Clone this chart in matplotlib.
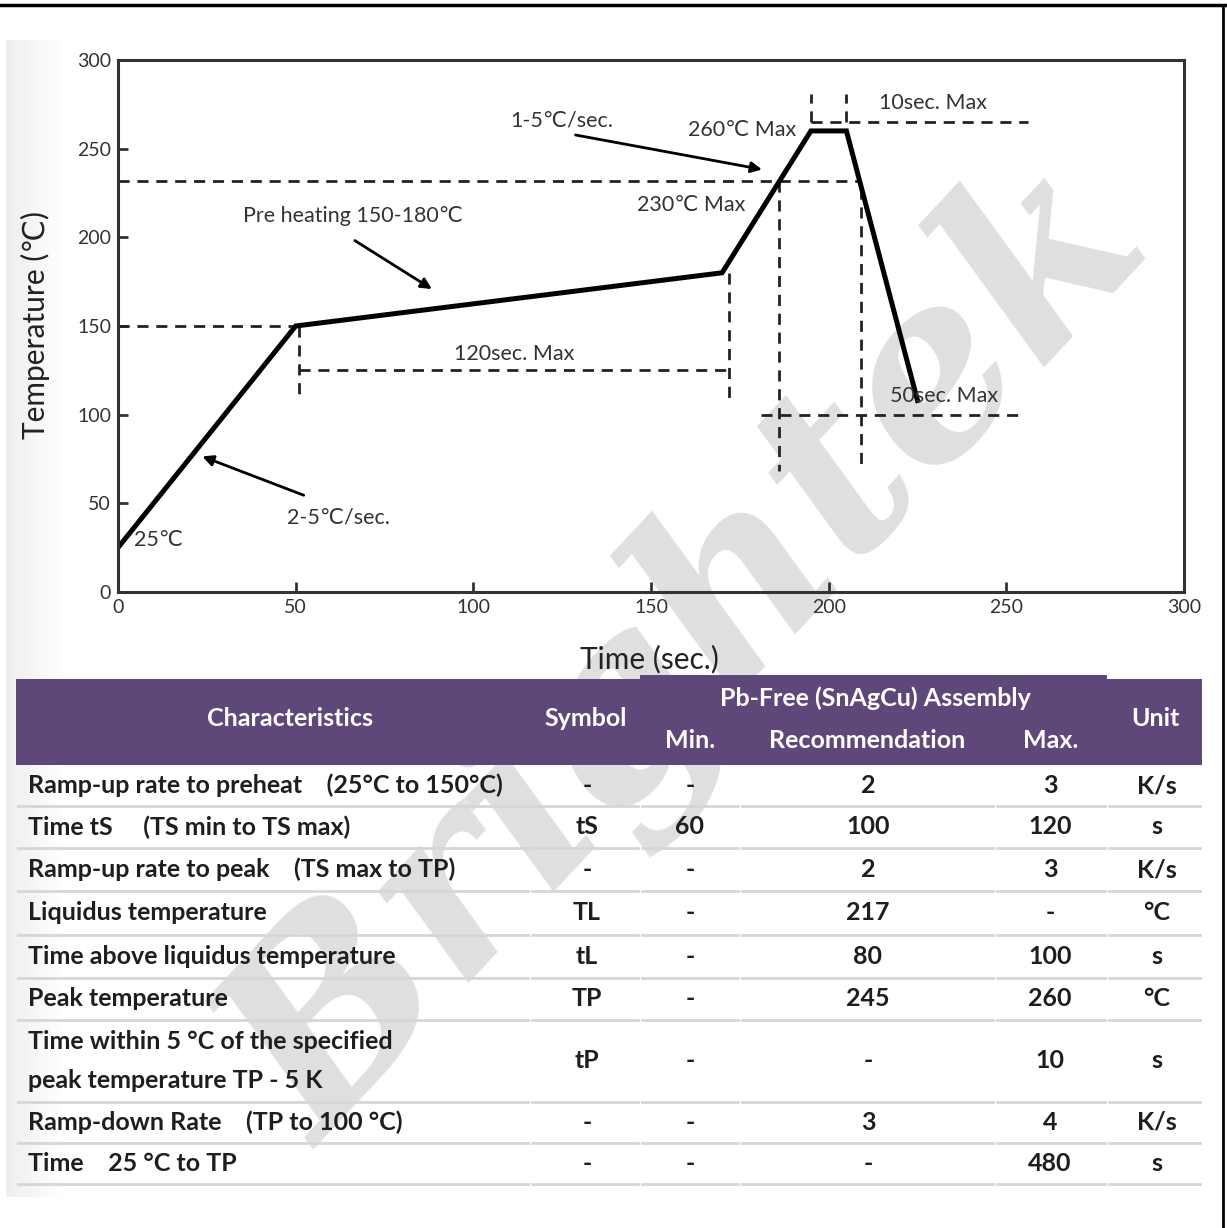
import matplotlib
matplotlib.use("Agg")
import matplotlib.pyplot as plt
from matplotlib.patches import Rectangle
import numpy as np

# ---- chart data ----
profile_time = [0, 50, 170, 195, 205, 225]
profile_temp = [25, 150, 180, 260, 260, 108]

# dashed guide lines: (x0, x1, y0, y1) in data units
guides = [
    (0, 50, 150, 150),
    (51, 51, 150, 108),
    (51, 172, 125, 125),
    (172, 172, 180, 108),
    (0, 209, 232, 232),
    (186, 186, 232, 68),
    (209, 209, 228, 68),
    (181, 255, 100, 100),
    (195, 256, 265, 265),
    (195, 195, 265, 281),
    (205, 205, 265, 281),
]

# (text, text_x, text_y, arrow_tip_x, arrow_tip_y, arrow_tail_x, arrow_tail_y)
arrow_notes = [
    ("1-5\u2103/sec.", 125, 266, 182, 238, 128, 258),
    ("Pre heating 150-180\u2103", 66, 212, 89, 170, 66, 199),
    ("2-5\u2103/sec.", 62, 42, 23, 77, 53, 54),
]
plain_notes = [
    ("260\u2103 Max", 191, 260.5, "right"),
    ("230\u2103 Max", 176.5, 218, "right"),
    ("120sec. Max", 111.5, 134, "center"),
    ("10sec. Max", 229.5, 276, "center"),
    ("50sec. Max", 232.5, 110.5, "center"),
    ("25\u2103", 4.5, 29.5, "left"),
]

x_ticks = [0, 50, 100, 150, 200, 250, 300]
y_ticks = [0, 50, 100, 150, 200, 250, 300]

# ---- table data ----
header_main = ["Characteristics", "Symbol", "Unit"]
header_group = "Pb-Free (SnAgCu) Assembly"
header_sub = ["Min.", "Recommendation", "Max."]
characteristics = [
    "Ramp-up rate to preheat    (25\u00b0C to 150\u00b0C)",
    "Time tS     (TS min to TS max)",
    "Ramp-up rate to peak    (TS max to TP)",
    "Liquidus temperature",
    "Time above liquidus temperature",
    "Peak temperature",
    "Time within 5 \u00b0C of the specified\npeak temperature TP - 5 K",
    "Ramp-down Rate    (TP to 100 \u00b0C)",
    "Time    25 \u00b0C to TP",
]
symbols = ["-", "tS", "-", "TL", "tL", "TP", "tP", "-", "-"]
mins = ["-", "60", "-", "-", "-", "-", "-", "-", "-"]
recommendations = ["2", "100", "2", "217", "80", "245", "-", "3", "-"]
maxs = ["3", "120", "3", "-", "100", "260", "10", "4", "480"]
units = ["K/s", "s", "K/s", "\u00b0C", "s", "\u00b0C", "s", "K/s", "s"]

plt.rcParams['font.family'] = ['Lato', 'DejaVu Sans']

W, H = 1227, 1228
fig = plt.figure(figsize=(W / 100, H / 100), dpi=100)

# background layer: frame, shadow, watermark
bg = fig.add_axes([0, 0, 1, 1], zorder=0)
bg.set_xlim(0, W)
bg.set_ylim(H, 0)
bg.axis('off')

grad = np.linspace(0.93, 1.0, 60).reshape(1, -1)
bg.imshow(grad, cmap='gray', vmin=0, vmax=1, extent=[6, 66, 1197, 40], aspect='auto')
bg.text(690, 655, "Brightek", rotation=47, fontsize=178, family='DejaVu Serif',
        style='italic', weight='bold', color='#dfdfdf', ha='center', va='center')
bg.add_patch(Rectangle((640, 636), 466, 44, color='white', lw=0))
bg.plot([0, W], [5, 5], color='black', lw=2.5)
bg.plot([1223, 1223], [5, H], color='black', lw=2)

# ---- reflow chart ----
ax = fig.add_axes([118 / W, 1 - 592 / H, (1184 - 118) / W, (592 - 60) / H], zorder=2)
ax.set_facecolor('none')
ax.set_xlim(0, 300)
ax.set_ylim(0, 300)
ax.set_xticks(x_ticks)
ax.set_yticks(y_ticks)
ax.tick_params(direction='in', length=7, width=2, labelsize=14, colors='#333333', pad=5)
for s in ax.spines.values():
    s.set_linewidth(2.2)
    s.set_color('#333333')

for x0, x1, y0, y1 in guides:
    ax.plot([x0, x1], [y0, y1], color='#222222', lw=2, dashes=(4, 2.8))

ax.plot(profile_time, profile_temp, color='black', lw=3.6, solid_joinstyle='miter')

for txt, tx, ty, hx, hy, sx, sy in arrow_notes:
    ax.text(tx, ty, txt, fontsize=15.5, color='#333333', ha='center', va='center')
    ax.annotate("", xy=(hx, hy), xytext=(sx, sy),
                arrowprops=dict(arrowstyle='-|>', lw=2, color='black', mutation_scale=16))
for txt, tx, ty, ha in plain_notes:
    ax.text(tx, ty, txt, fontsize=15.5, color='#333333', ha=ha, va='center')

ax.set_xlabel("Time (sec.)", fontsize=21.5, color='#222222')
ax.set_ylabel("Temperature (\u2103)", fontsize=21.5, color='#222222')
ax.xaxis.set_label_coords(0.499, -0.1)
ax.yaxis.set_label_coords(-0.064, 0.502)

# ---- table ----
tb = fig.add_axes([0, 0, 1, 1], zorder=3)
tb.set_facecolor('none')
tb.set_xlim(0, W)
tb.set_ylim(H, 0)
tb.axis('off')

col_edges = [16, 530, 640, 740, 995, 1107, 1202]
row_edges = [765, 806, 848, 891, 935, 978, 1020, 1102, 1143, 1184]
purple = '#5e4779'

tb.add_patch(Rectangle((16, 679), 1186, 765 - 679, color=purple, lw=0))
tb.add_patch(Rectangle((640, 675), 1107 - 640, 8, color=purple, lw=0))

hdr = dict(color='white', fontsize=18, weight='bold', va='center', ha='center')
tb.text(290, 718, header_main[0], **hdr)
tb.text(586, 718, header_main[1], **hdr)
tb.text(1155, 718, header_main[2], **hdr)
tb.text(875, 698, header_group, **hdr)
for i, h in enumerate(header_sub):
    tb.text((col_edges[i + 2] + col_edges[i + 3]) / 2, 740, h, **hdr)

for y in row_edges[1:]:
    for c in range(len(col_edges) - 1):
        tb.plot([col_edges[c] + 2, col_edges[c + 1] - 2], [y, y], color='#d6d6d6', lw=2)

cell = dict(color='#1e1e1e', fontsize=18, weight='bold', va='center')
centers = [587, 690, 868, 1050, 1157]
for r in range(len(characteristics)):
    yc = (row_edges[r] + row_edges[r + 1]) / 2
    tb.text(28, yc, characteristics[r], ha='left', linespacing=1.8, **cell)
    vals = [symbols[r], mins[r], recommendations[r], maxs[r], units[r]]
    for xc, v in zip(centers, vals):
        tb.text(xc, yc, v, ha='center', **cell)

fig.savefig("out.png", dpi=100)
